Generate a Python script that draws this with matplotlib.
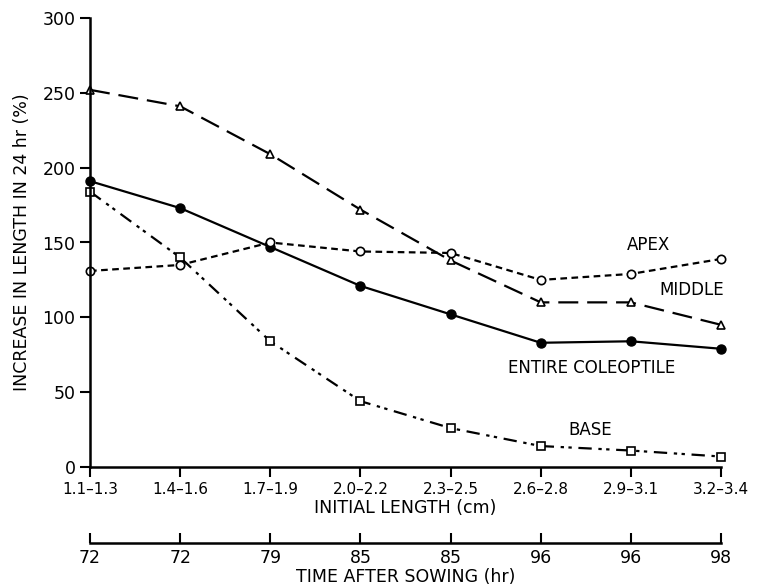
import matplotlib
matplotlib.use("Agg")
import matplotlib.pyplot as plt

categories = ["1.1\u20131.3", "1.4\u20131.6", "1.7\u20131.9", "2.0\u20132.2",
              "2.3\u20132.5", "2.6\u20132.8", "2.9\u20133.1", "3.2\u20133.4"]
hours = ["72", "72", "79", "85", "85", "96", "96", "98"]
middle = [252, 241, 209, 172, 138, 110, 110, 95]
entire = [191, 173, 147, 121, 102, 83, 84, 79]
apex = [131, 135, 150, 144, 143, 125, 129, 139]
base = [184, 140, 84, 44, 26, 14, 11, 7]

plt.rcParams['font.family'] = ['DejaVu Sans']
fig = plt.figure(figsize=(7.63, 5.87), dpi=100)
ax = fig.add_axes([90/763, 120/587, 631/763, 449/587])
x = list(range(len(categories)))
lw = 1.6
ax.plot(x, middle, color='black', lw=lw, dashes=(9, 4), marker='^', ms=6,
        mfc='white', mec='black', mew=1.2, clip_on=False)
ax.plot(x, entire, color='black', lw=lw, ls='-', marker='o', ms=6.5,
        mfc='black', mec='black', clip_on=False)
ax.plot(x, apex, color='black', lw=lw, dashes=(3, 2), marker='o', ms=6,
        mfc='white', mec='black', mew=1.2, clip_on=False)
ax.plot(x, base, color='black', lw=lw, dashes=(6, 3, 1.5, 2, 1.5, 3), marker='s', ms=5.5,
        mfc='white', mec='black', mew=1.2, clip_on=False)

ax.set_xlim(0, 7)
ax.set_ylim(0, 300)
ax.set_yticks([0, 50, 100, 150, 200, 250, 300])
ax.set_xticks(x)
ax.set_xticklabels(categories, fontsize=11)
ax.tick_params(axis='y', labelsize=12.5, width=1.5, length=7, direction='out')
ax.tick_params(axis='x', width=1.5, length=7, direction='out', pad=4)
for s in ['top', 'right']:
    ax.spines[s].set_visible(False)
for s in ['left', 'bottom']:
    ax.spines[s].set_linewidth(1.8)
ax.set_xlabel("INITIAL LENGTH (cm)", fontsize=12.5, labelpad=1)
ax.set_ylabel("INCREASE IN LENGTH IN 24 hr (%)", fontsize=12.5, labelpad=8)

ax.text(5.96, 148, "APEX", fontsize=12, ha='left', va='center')
ax.text(6.32, 118, "MIDDLE", fontsize=12, ha='left', va='center')
ax.text(5.57, 66, "ENTIRE COLEOPTILE", fontsize=12, ha='center', va='center')
ax.text(5.55, 25, "BASE", fontsize=12, ha='center', va='center')

ax2 = fig.add_axes([90/763, 44/587, 631/763, 0.001])
ax2.set_xlim(0, 7)
ax2.set_yticks([])
ax2.set_xticks(x)
ax2.set_xticklabels(hours, fontsize=12.5)
ax2.tick_params(axis='x', width=1.5, length=7, direction='in', pad=4)
for s in ['top', 'right', 'left']:
    ax2.spines[s].set_visible(False)
ax2.spines['bottom'].set_linewidth(1.8)
ax2.patch.set_visible(False)
ax2.set_xlabel("TIME AFTER SOWING (hr)", fontsize=12.5, labelpad=1)

fig.savefig("out.png", dpi=100)
